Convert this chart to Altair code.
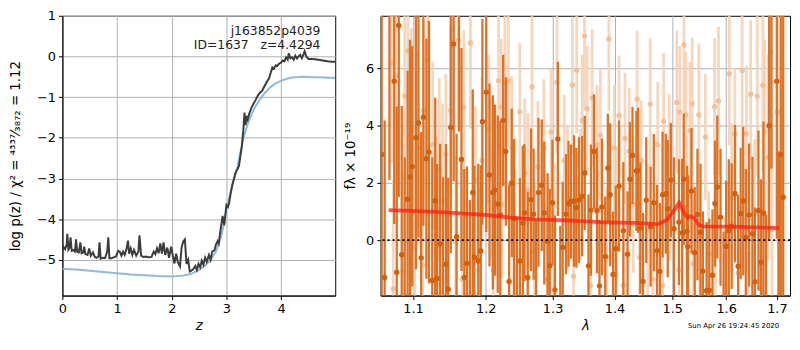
import altair as alt
import pandas as pd

FONT = "DejaVu Sans"

# ---------------- left panel: log p(z) ----------------
Z_PZ = [0.00, 0.02, 0.05, 0.08, 0.09, 0.11, 0.13, 0.15, 0.17, 0.20, 0.23, 0.25, 0.27, 0.30,
        0.33, 0.35, 0.38, 0.40, 0.42, 0.46, 0.49, 0.52, 0.56, 0.59, 0.62, 0.66, 0.68, 0.70,
        0.74, 0.78, 0.82, 0.84, 0.86, 0.90, 0.94, 0.98, 1.02, 1.05, 1.08, 1.11, 1.14, 1.17,
        1.20, 1.22, 1.25, 1.28, 1.31, 1.35, 1.39, 1.41, 1.44, 1.48, 1.53, 1.58, 1.63, 1.67,
        1.70, 1.73, 1.76, 1.79, 1.82, 1.85, 1.88, 1.92, 1.95, 1.99, 2.02, 2.05, 2.08, 2.11,
        2.15, 2.18, 2.21, 2.24, 2.27, 2.30, 2.33, 2.36, 2.40, 2.43, 2.46, 2.49, 2.52, 2.55,
        2.58, 2.61, 2.64, 2.68, 2.71, 2.74, 2.78, 2.81, 2.84, 2.86, 2.88, 2.90, 2.93, 2.96,
        2.98, 3.00, 3.03, 3.05, 3.08, 3.11, 3.14, 3.17, 3.20, 3.23, 3.26, 3.28, 3.31, 3.33,
        3.35, 3.37, 3.39, 3.42, 3.46, 3.50, 3.53, 3.58, 3.62, 3.65, 3.70, 3.74, 3.78, 3.81,
        3.84, 3.87, 3.90, 3.93, 3.96, 4.00, 4.03, 4.06, 4.09, 4.12, 4.14, 4.17, 4.20, 4.23,
        4.26, 4.29, 4.32, 4.35, 4.38, 4.41, 4.43, 4.46, 4.50, 4.55, 4.62, 4.68, 4.76, 4.85,
        4.92, 4.99]
LOG_PZ = [-4.80, -4.68, -4.74, -4.62, -4.36, -4.75, -4.70, -4.45, -4.78, -4.76, -4.80, -4.50,
          -4.80, -4.82, -4.57, -4.84, -4.82, -4.68, -4.86, -4.88, -4.72, -4.90, -4.82, -4.92,
          -4.95, -4.92, -4.57, -4.97, -4.95, -4.96, -4.80, -4.45, -4.96, -4.96, -4.94, -4.92,
          -4.78, -4.80, -4.90, -4.80, -4.88, -4.75, -4.53, -4.85, -4.72, -4.88, -4.76, -4.90,
          -4.80, -4.40, -4.90, -4.93, -4.92, -4.94, -4.93, -4.80, -4.86, -4.72, -4.84, -4.60,
          -4.85, -4.57, -4.88, -4.70, -4.95, -4.68, -4.90, -5.09, -4.85, -5.05, -5.16, -4.70,
          -4.55, -4.50, -5.10, -5.00, -5.29, -5.27, -5.22, -5.15, -5.25, -5.10, -5.18, -5.02,
          -5.12, -4.95, -5.05, -4.88, -5.00, -4.80, -4.77, -4.62, -4.54, -4.60, -4.38, -4.20,
          -3.92, -4.15, -3.90, -3.65, -3.70, -3.60, -3.35, -3.15, -3.00, -2.85, -2.78, -2.69,
          -2.40, -2.23, -1.80, -1.38, -1.69, -1.46, -1.55, -1.40, -1.25, -1.15, -1.08, -0.95,
          -0.88, -0.85, -0.72, -0.62, -0.54, -0.40, -0.27, -0.30, -0.22, -0.23, -0.18, -0.15,
          -0.10, -0.12, -0.02, -0.08, 0.08, -0.05, -0.02, -0.08, 0.02, -0.05, 0.00, 0.04,
          -0.04, 0.05, 0.13, 0.00, -0.06, -0.06, -0.07, -0.08, -0.10, -0.12, -0.13, -0.13]

Z_PRIOR = [0.00, 0.25, 0.50, 0.75, 1.00, 1.25, 1.50, 1.75, 2.00, 2.20, 2.35, 2.50, 2.60, 2.70,
           2.80, 2.90, 2.95, 3.00, 3.05, 3.10, 3.15, 3.20, 3.25, 3.30, 3.35, 3.40, 3.50, 3.60,
           3.70, 3.80, 3.90, 4.00, 4.10, 4.20, 4.40, 4.60, 4.80, 4.99]
LOG_PRIOR = [-5.22, -5.24, -5.27, -5.30, -5.33, -5.36, -5.38, -5.40, -5.41, -5.39, -5.35, -5.25,
             -5.15, -5.02, -4.82, -4.45, -4.15, -3.78, -3.48, -3.20, -2.95, -2.72, -2.40, -2.08,
             -1.84, -1.62, -1.30, -1.08, -0.90, -0.76, -0.66, -0.60, -0.55, -0.52, -0.50, -0.51,
             -0.52, -0.53]

LABEL_LINES = ["j163852p4039", "ID=1637\u00a0\u00a0\u00a0z=4.4294"]
LABEL_Y = [0.62, 0.27]

# ---------------- right panel: spectrum ----------------
WAVE_DARK = [1.0596, 1.0634, 1.0695, 1.0756, 1.0789, 1.0815, 1.0853, 1.0892, 1.0930, 1.0961,
             1.0990, 1.1039, 1.1073, 1.1108, 1.1138, 1.1178, 1.1213, 1.1257, 1.1297, 1.1323,
             1.1363, 1.1403, 1.1443, 1.1474, 1.1509, 1.1549, 1.1589, 1.1623, 1.1657, 1.1697,
             1.1734, 1.1775, 1.1816, 1.1839, 1.1894, 1.1930, 1.1953, 1.2008, 1.2055, 1.2103,
             1.2135, 1.2174, 1.2211, 1.2254, 1.2293, 1.2341, 1.2380, 1.2413, 1.2457, 1.2501,
             1.2545, 1.2570, 1.2619, 1.2669, 1.2708, 1.2745, 1.2782, 1.2832, 1.2871, 1.2922,
             1.2956, 1.2997, 1.3036, 1.3082, 1.3120, 1.3158, 1.3210, 1.3250, 1.3291, 1.3338,
             1.3374, 1.3416, 1.3468, 1.3510, 1.3570, 1.3611, 1.3660, 1.3708, 1.3750, 1.3790,
             1.3845, 1.3888, 1.3927, 1.3975, 1.4020, 1.4076, 1.4148, 1.4220, 1.4260, 1.4304,
             1.4371, 1.4400, 1.4439, 1.4485, 1.4541, 1.4617, 1.4673, 1.4730, 1.4780, 1.4828,
             1.4885, 1.4920, 1.4975, 1.5032, 1.5121, 1.5180, 1.5208, 1.5269, 1.5283, 1.5350,
             1.5410, 1.5460, 1.5516, 1.5560, 1.5630, 1.5680, 1.5740, 1.5787, 1.5831, 1.5892,
             1.5950, 1.6000, 1.6050, 1.6105, 1.6170, 1.6230, 1.6280, 1.6330, 1.6380, 1.6445,
             1.6510, 1.6560, 1.6630, 1.6680, 1.6730, 1.6780, 1.6843, 1.6890, 1.6999, 1.7040,
             1.7080, 1.7130]
FLUX_DARK = [3.00, -1.31, 8.60, 5.56, -1.12, 7.51, -0.51, -2.60, 1.43, 2.21,
             2.58, 3.58, 4.10, -0.62, 4.30, 2.85, 3.08, -1.41, 1.38, -1.34,
             -0.13, -2.30, -0.84, -1.72, 3.94, 6.86, 0.12, 8.30, 2.82, -1.31,
             -0.82, -2.40, 1.67, -0.60, -0.73, -0.38, 4.14, 5.18, 2.28, 1.67,
             1.75, 1.26, 0.88, 4.19, 3.10, -1.45, 2.00, 0.74, -2.20, -0.73,
             0.60, 0.96, -1.31, 1.41, 0.91, -2.30, 1.67, 1.92, 0.95, -0.05,
             -0.90, 1.31, -1.74, 3.54, -2.10, -0.26, 0.91, 1.27, 1.35, 1.37,
             1.13, 1.40, 1.54, 2.35, -0.90, 1.05, 3.10, 1.04, -1.60, 1.16,
             -0.57, 2.52, 1.59, -1.20, -0.30, 1.89, 0.33, -0.49, 2.13, 2.96,
             2.42, 2.44, 0.42, -1.45, 1.40, 0.47, 1.31, -0.37, -1.10, 1.59,
             1.62, 1.10, 2.10, 0.40, 0.63, 0.25, 2.13, 0.30, -0.22, 1.72,
             -0.44, 0.90, 0.27, -1.09, -1.77, -1.75, -1.23, 1.28, 1.86, 0.80,
             -2.30, -0.22, 0.33, 0.49, 1.63, -0.91, 0.93, 1.37, 0.09, 0.88,
             0.22, -1.46, 1.04, -0.77, 0.95, -2.50, 4.00, 8.50, 5.56, -2.40,
             3.00, 1.50]
ERR_DARK = [6.5, 5.5, 6.5, 5.0, 5.8, 6.0, 5.2, 5.5, 4.5, 4.8,
            4.2, 4.6, 4.0, 4.4, 3.8, 4.2, 4.6, 4.3, 3.6, 4.0,
            3.5, 4.5, 4.2, 3.9, 4.4, 4.8, 3.6, 4.5, 3.9, 3.8,
            3.4, 3.8, 3.6, 3.2, 3.4, 3.0, 3.6, 4.9, 3.2, 3.4,
            3.0, 3.1, 3.3, 2.3, 2.6, 3.4, 2.6, 2.8, 3.0, 2.9,
            2.7, 2.4, 3.0, 2.5, 2.3, 3.0, 2.6, 2.3, 2.5, 2.4,
            2.7, 2.2, 2.6, 2.7, 2.6, 2.3, 2.1, 2.2, 2.0, 2.3,
            2.1, 2.2, 2.1, 2.0, 2.5, 2.3, 2.0, 2.2, 2.3, 2.4,
            2.1, 1.9, 2.5, 2.2, 2.2, 2.3, 2.4, 2.2, 2.0, 1.7,
            2.1, 2.2, 2.3, 2.4, 2.2, 2.1, 2.4, 2.3, 2.4, 2.2,
            2.1, 2.4, 2.0, 2.5, 2.2, 2.6, 2.3, 2.3, 2.5, 2.2,
            2.3, 2.3, 2.4, 2.1, 2.4, 2.5, 2.3, 2.2, 2.5, 2.4,
            2.6, 2.3, 2.5, 2.2, 2.4, 2.5, 2.3, 2.6, 2.4, 2.5,
            2.7, 2.6, 2.8, 2.9, 3.2, 3.4, 4.0, 6.0, 5.5, 5.5,
            6.5, 7.0]

WAVE_LIGHT = [1.0722, 1.0777, 1.0892, 1.0935, 1.0978, 1.1065, 1.1139, 1.1196, 1.1262, 1.1352,
              1.1441, 1.1509, 1.1531, 1.1613, 1.1691, 1.1783, 1.1853, 1.1947, 1.2041, 1.2088,
              1.2185, 1.2223, 1.2281, 1.2329, 1.2378, 1.2500, 1.2574, 1.2683, 1.2773, 1.2864,
              1.2976, 1.3068, 1.3182, 1.3312, 1.3380, 1.3469, 1.3506, 1.3549, 1.3629, 1.3710,
              1.3764, 1.3905, 1.3998, 1.4075, 1.4175, 1.4248, 1.4383, 1.4456, 1.4610, 1.4743,
              1.4847, 1.4947, 1.5083, 1.5136, 1.5214, 1.5244, 1.5322, 1.5364, 1.5485, 1.5607,
              1.5779, 1.5854, 1.6061, 1.6169, 1.6309, 1.6392, 1.6476, 1.6606, 1.6718, 1.6751,
              1.6817, 1.6883, 1.7016,
              1.0744, 1.0871, 1.1022, 1.1130, 1.1307, 1.1396, 1.1577, 1.1668, 1.1900, 1.2110,
              1.2232, 1.2426, 1.2622, 1.2722, 1.2923, 1.3026, 1.3234, 1.3330, 1.3442, 1.3602,
              1.3730, 1.3871, 1.4036, 1.4147, 1.4315, 1.4428, 1.4570, 1.4657, 1.4830, 1.4960,
              1.5124, 1.5260, 1.5380, 1.5500, 1.5668, 1.5792, 1.5980, 1.6107, 1.6234, 1.6424,
              1.6554, 1.6685, 1.6900]
FLUX_LIGHT = [6.19, 5.75, 5.04, 6.62, 4.43, 3.23, 4.54, 6.29, 3.34, 2.46,
              3.01, 4.54, 7.39, 7.00, 4.65, 6.90, 2.08, 2.79, 3.89, 2.13,
              5.58, 4.65, 5.53, 5.58, 3.23, 4.49, 2.35, 5.36, 2.57, 3.23,
              3.78, 5.53, 2.79, 5.42, 5.94, 4.19, 7.15, 4.60, 4.98, 3.34,
              3.67, 7.03, 3.23, 4.36, 3.56, 3.12, 4.93, 2.79, 4.76, 3.34,
              4.16, 2.90, 4.82, 4.49, 6.84, 4.38, 3.83, 4.78, 4.38, 3.61,
              4.67, 4.87, 5.83, 3.72, 5.93, 3.72, 5.11, 5.04, 5.42, 3.80,
              2.90, 6.57, 4.49,
              -1.70, -1.09, -0.27, -0.88, 0.44, 1.37, -0.05, -1.37, -1.04, -1.04,
              1.26, -0.05, 1.75, -0.38, -1.37, 0.38, 1.48, -1.26, 1.59, -1.59,
              1.04, -0.60, 0.93, -1.59, 1.26, -0.60, 0.38, -1.37, -1.59, 1.48,
              -1.04, 1.15, -0.82, 0.05, -0.49, 0.38, -1.59, 1.48, -1.15, -0.49,
              0.93, -1.70, 0.38]
ERR_LIGHT = [3.5, 3.8, 3.2, 3.6, 3.0, 3.4, 3.1, 3.3, 2.9, 3.2,
             2.8, 3.0, 3.4, 3.2, 2.7, 3.0, 2.6, 2.9, 2.6, 2.8,
             2.7, 2.4, 2.6, 2.3, 2.5, 2.4, 2.6, 2.5, 2.3, 2.4,
             2.2, 2.5, 2.3, 2.4, 2.2, 2.3, 2.6, 2.2, 2.4, 2.1,
             2.3, 2.5, 2.2, 2.1, 2.3, 2.2, 2.4, 2.1, 2.3, 2.2,
             2.4, 2.2, 2.5, 2.3, 2.6, 2.2, 2.4, 2.3, 2.5, 2.2,
             2.4, 2.6, 2.5, 2.3, 2.7, 2.4, 2.6, 2.8, 3.0, 3.2,
             3.6, 4.0, 4.5,
             3.8, 3.5, 3.6, 3.3, 3.2, 3.4, 3.0, 3.2, 2.9, 2.7,
             2.6, 2.5, 2.7, 2.4, 2.6, 2.3, 2.5, 2.4, 2.3, 2.5,
             2.2, 2.4, 2.3, 2.2, 2.4, 2.2, 2.3, 2.5, 2.3, 2.2,
             2.4, 2.5, 2.3, 2.4, 2.2, 2.5, 2.4, 2.6, 2.4, 2.7,
             2.6, 2.9, 3.5]

WAVE_MODEL = [1.0684, 1.0900, 1.1307, 1.1994, 1.2329, 1.2722, 1.3234, 1.3764, 1.4315, 1.4740,
              1.4896, 1.5013, 1.5124, 1.5214, 1.5274, 1.5310, 1.5395, 1.5490, 1.5560, 1.6107,
              1.6751, 1.7050]
FLUX_MODEL = [1.05, 1.03, 0.99, 0.88, 0.80, 0.73, 0.69, 0.63, 0.60, 0.56,
              0.70, 0.99, 1.31, 0.95, 0.79, 0.84, 0.78, 0.52, 0.48, 0.47,
              0.44, 0.42]

DATE_TEXT = "Sun Apr 26 19:24:45 2020"

LW, LH = 276, 283
RW, RH = 414, 283

# ---------------- left chart ----------------
lx = alt.Scale(domain=[0, 4.99], nice=False, zero=False)
ly = alt.Scale(domain=[-5.88, 1.0], nice=False, zero=False)
lx_axis = alt.Axis(values=[0, 1, 2, 3, 4], format="d", title="z", titleFontStyle="italic",
                   labelFlush=False, titlePadding=3)
ly_axis = alt.Axis(values=[1, 0, -1, -2, -3, -4, -5], format="d",
                   title="log p(z) / χ² = ⁴³³⁷⁄₃₈₇₂ = 1.12", titlePadding=14)
LX = alt.X("z:Q", scale=lx, axis=lx_axis)
LY = alt.Y("v:Q", scale=ly, axis=ly_axis)

pz_df = pd.DataFrame({"z": Z_PZ, "v": LOG_PZ})
prior_df = pd.DataFrame({"z": Z_PRIOR, "v": LOG_PRIOR})
lab_df = pd.DataFrame({"z": [4.72, 4.72], "v": LABEL_Y, "t": LABEL_LINES})

prior_line = alt.Chart(prior_df).mark_line(color="#8fbbd9", strokeWidth=2, clip=True).encode(x=LX, y=LY)
pz_line = alt.Chart(pz_df).mark_line(color="#3c3c3c", strokeWidth=2, clip=True).encode(x=LX, y=LY)
labels = alt.Chart(lab_df).mark_text(align="right", baseline="middle", font=FONT, fontSize=12.5,
                                     color="#222222").encode(x=LX, y=LY, text="t:N")
left = alt.layer(prior_line, pz_line, labels).properties(width=LW, height=LH)

# ---------------- right chart ----------------
rx = alt.Scale(type="log", domain=[1.0584, 1.727], nice=False)
ry = alt.Scale(domain=[-1.94, 7.85], nice=False, zero=False)
rx_axis = alt.Axis(values=[1.1, 1.2, 1.3, 1.4, 1.5, 1.6, 1.7], format=".1f", title="λ",
                   titleFontStyle="italic", labelFlush=False, titlePadding=3)
ry_axis = alt.Axis(values=[0, 2, 4, 6], format="d", title="fλ × 10⁻¹⁹", titlePadding=8)
RX = alt.X("w:Q", scale=rx, axis=rx_axis)

dark_df = pd.DataFrame({"w": WAVE_DARK, "f": FLUX_DARK, "e": ERR_DARK})
dark_df["lo"] = dark_df["f"] - dark_df["e"]
dark_df["hi"] = dark_df["f"] + dark_df["e"]
light_df = pd.DataFrame({"w": WAVE_LIGHT, "f": FLUX_LIGHT, "e": ERR_LIGHT})
light_df["lo"] = light_df["f"] - light_df["e"]
light_df["hi"] = light_df["f"] + light_df["e"]
model_df = pd.DataFrame({"w": WAVE_MODEL, "f": FLUX_MODEL})
zero_df = pd.DataFrame({"f": [0.0]})
date_df = pd.DataFrame({"t": [DATE_TEXT]})

light_bars = alt.Chart(light_df).mark_rule(color="#f5d0b2", opacity=0.85, strokeWidth=2.8, clip=True).encode(
    x=RX, y=alt.Y("lo:Q", scale=ry, axis=ry_axis), y2="hi:Q")
light_pts = alt.Chart(light_df).mark_circle(color="#f0bd96", opacity=0.9, size=28, clip=True).encode(
    x=RX, y=alt.Y("f:Q", scale=ry, axis=ry_axis))
dark_bars = alt.Chart(dark_df).mark_rule(color="#dc7226", strokeWidth=2.3, clip=True).encode(
    x=RX, y=alt.Y("lo:Q", scale=ry, axis=ry_axis), y2="hi:Q")
dark_pts = alt.Chart(dark_df).mark_circle(color="#d2600e", opacity=1, size=30, clip=True).encode(
    x=RX, y=alt.Y("f:Q", scale=ry, axis=ry_axis))
model_line = alt.Chart(model_df).mark_line(color="#ff2010", opacity=0.75, strokeWidth=3.8, clip=True).encode(
    x=RX, y=alt.Y("f:Q", scale=ry, axis=ry_axis))
zero_line = alt.Chart(zero_df).mark_rule(color="black", strokeWidth=2, strokeDash=[2, 3]).encode(
    y=alt.Y("f:Q", scale=ry, axis=ry_axis))
date_txt = alt.Chart(date_df).mark_text(align="right", baseline="middle", font=FONT, fontSize=7,
                                        color="black").encode(
    x=alt.value(RW - 11), y=alt.value(RH + 31), text="t:N")

right = alt.layer(light_bars, light_pts, dark_bars, dark_pts, model_line, zero_line, date_txt).properties(
    width=RW, height=RH)

chart = alt.hconcat(left, right, spacing=46, bounds="flush").properties(
    padding={"left": 0, "top": -1, "right": 0, "bottom": 0}
).configure_axis(
    labelFont=FONT, titleFont=FONT, labelFontSize=13, titleFontSize=13.5, titleFontWeight="normal",
    labelColor="black", titleColor="black", domainColor="black", tickColor="black",
    tickSize=4, tickWidth=1, gridColor="#b0b0b0", gridWidth=1, labelPadding=3, grid=True
).configure_view(stroke="black", strokeWidth=1)

chart.save("out.html", embed_options={"renderer": "svg", "actions": False})
